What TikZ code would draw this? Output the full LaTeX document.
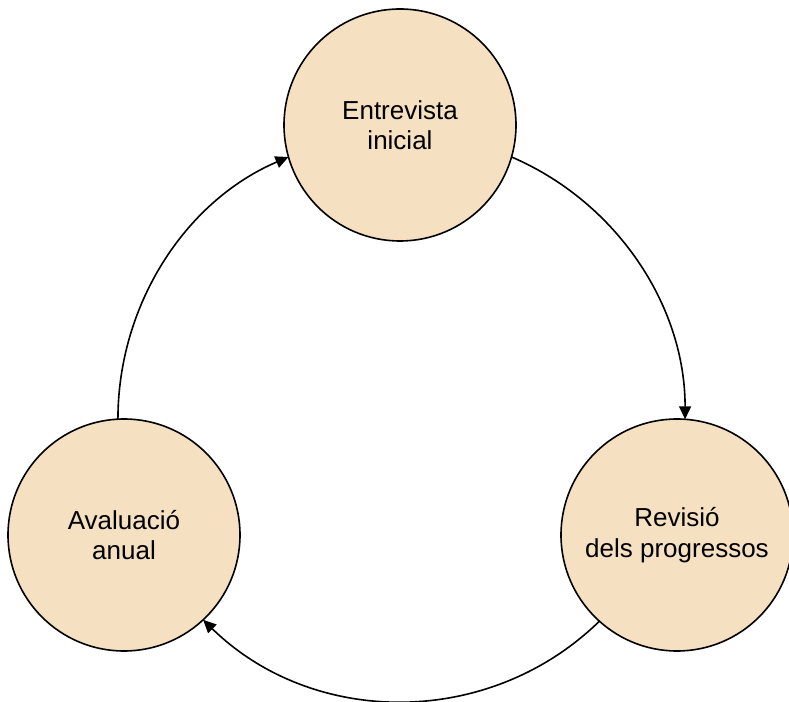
\documentclass[tikz,border=0pt]{standalone}
\usepackage{fontspec}
\setmainfont{Liberation Sans}
\usetikzlibrary{arrows.meta}
\definecolor{stagefill}{RGB}{245,224,194}
\begin{document}
\begin{tikzpicture}[x=1pt,y=1pt,
  stage/.style={circle, draw=black, line width=1.6pt, fill=stagefill,
    minimum size=232pt, inner sep=0pt, outer sep=0pt, align=center,
    font=\fontsize{26}{30.4}\selectfont},
  flow/.style={line width=1.6pt, -{Triangle[length=13pt,width=12pt]}}]
  \useasboundingbox (0,0) rectangle (789,701);
  % the three stages of the cycle
  \node[stage] (entrevista) at (400,576) {Entrevista\\inicial};
  \node[stage] (avaluacio)  at (124,166) {Avaluació\\anual};
  \node[stage] (revisio)    at (677,166) {Revisió\\dels progressos};
  % connectors follow one large circle, clockwise
  \draw[flow] (entrevista.-16.4) to[out=-23.2, in=90, looseness=0.928] (revisio.86.5);
  \draw[flow] (revisio.-132.5) to[out=-135.7, in=-44.3, looseness=0.992] (avaluacio.-47.5);
  \draw[flow] (avaluacio.93.5) to[out=90, in=203.2, looseness=0.928] (entrevista.196.4);
\end{tikzpicture}
\end{document}
